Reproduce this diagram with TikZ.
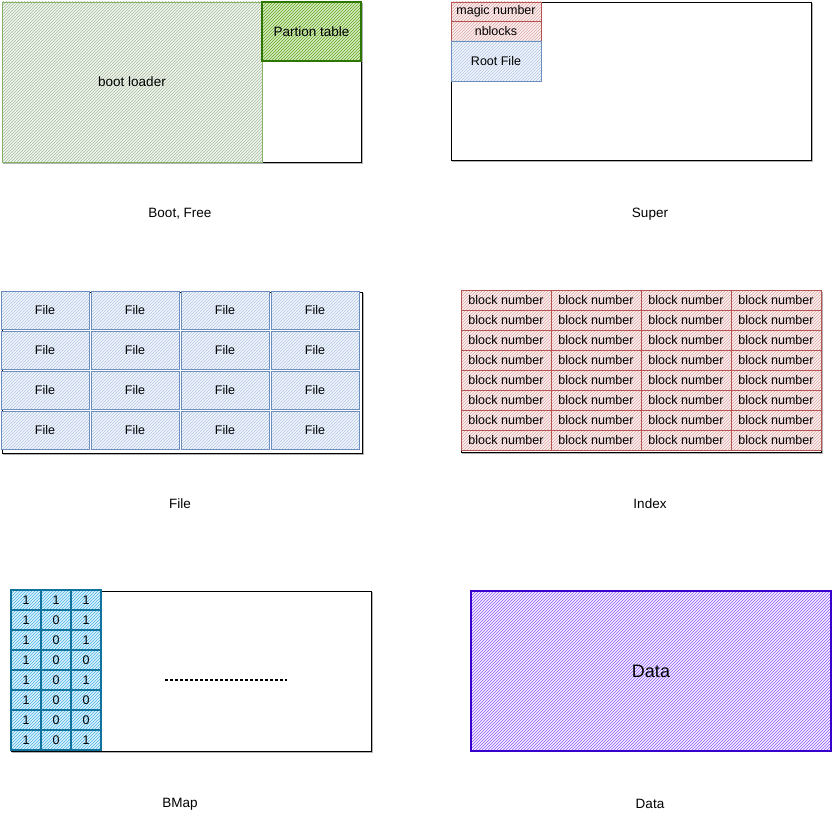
\documentclass[tikz,border=0pt]{standalone}
\usepackage{fontspec}
\setmainfont{Liberation Sans}
\usetikzlibrary{positioning, patterns}

\definecolor{bootgreen}{HTML}{82B366}
\definecolor{bootfill}{HTML}{D5E8D4}
\definecolor{partgreen}{HTML}{2D7600}
\definecolor{partfill}{HTML}{60A917}
\definecolor{redline}{HTML}{B85450}
\definecolor{redfill}{HTML}{F8CECC}
\definecolor{blueline}{HTML}{6C8EBF}
\definecolor{bluefill}{HTML}{DAE8FC}
\definecolor{mapline}{HTML}{10739E}
\definecolor{mapfill}{HTML}{1BA1E2}
\definecolor{dataline}{HTML}{3700CC}
\definecolor{datafill}{HTML}{8F5BFF}

\begin{document}
\begin{tikzpicture}[
    x=1pt, y=-1pt,
    font=\fontsize{12.5}{14}\selectfont,
    frame/.style={draw=black, line width=0.9pt, fill=white, inner sep=0pt, outer sep=0pt, anchor=north west,
        preaction={draw=black!30, line width=1pt, transform canvas={shift={(1.5pt,-1.5pt)}}}},
    cell/.style={draw, line width=0.9pt, inner sep=0pt, outer sep=0pt, anchor=north west},
    hatch/.style 2 args={preaction={fill=#2}, pattern=north east lines, pattern color=#1},
    caption/.style={font=\fontsize{13.5}{16}\selectfont}
]
\useasboundingbox (0,0) rectangle (833,824);

% Boot, Free
\node[frame, minimum width=359, minimum height=160] (bootdisk) at (2,2) {};
\node[cell, draw=bootgreen, hatch={bootgreen!55!gray!70}{bootfill!35}, minimum width=260, minimum height=160,
    font=\fontsize{13.5}{16}\selectfont] (bootldr) at (2,2) {boot loader};
\node[cell, draw=partgreen, line width=1.3pt, hatch={partfill}{partfill!25}, minimum width=99, minimum height=59,
    font=\fontsize{13.5}{16}\selectfont] (parttbl) at (bootldr.north east) {Partion table};
\node[caption] (bootcap) at (180,214) {Boot, Free};

% Super
\node[frame, minimum width=360, minimum height=158] (superblk) at (451,2) {};
\node[cell, draw=redline, hatch={redline!50}{redfill!30}, minimum width=90, minimum height=19] (magic) at (451,2) {magic number};
\node[cell, draw=redline, hatch={redline!50}{redfill!30}, minimum width=90, minimum height=20, below=0pt of magic] (nblocks) {nblocks};
\node[cell, draw=blueline, hatch={blueline!50}{bluefill!40}, minimum width=90, minimum height=40, below=0pt of nblocks] (rootfile) {Root File};
\node[caption] (supercap) at (650,214) {Super};

% File
\node[frame, minimum width=360, minimum height=161] (fileblk) at (2,292) {};
\foreach \r in {0,...,3}
  \foreach \c in {0,...,3}
    \node[cell, draw=blueline, hatch={blueline!50}{bluefill!40}, minimum width=88, minimum height=38] (file-\r-\c) at (1+90*\c, 291+40*\r) {File};
\node[caption] (filecap) at (180,504) {File};

% Index
\node[frame, minimum width=360, minimum height=161] (indexblk) at (461,291) {};
\foreach \r in {0,...,7}
  \foreach \c in {0,...,3}
    \node[cell, draw=redline, hatch={redline!50}{redfill!30}, minimum width=90, minimum height=20] (idx-\r-\c) at (461+90*\c, 290+20*\r) {block number};
\node[caption] (indexcap) at (650,504) {Index};

% BMap
\node[frame, minimum width=360, minimum height=160] (bmapblk) at (11,591) {};
\foreach \bits [count=\r from 0] in {{1,1,1},{1,0,1},{1,0,1},{1,0,0},{1,0,1},{1,0,0},{1,0,0},{1,0,1}}
  \foreach \b [count=\c from 0] in \bits
    \node[cell, draw=mapline, line width=1.1pt, hatch={mapfill!80}{mapfill!15}, minimum width=30, minimum height=20] (bit-\r-\c) at (11+30*\c, 590+20*\r) {\b};
\coordinate (gapL) at (165,680);
\coordinate (gapR) at (287,680);
\draw[densely dashed, line width=1.3pt] (gapL) -- (gapR);
\node[caption] (bmapcap) at (180,804) {BMap};

% Data
\node[cell, draw=dataline, line width=1.1pt, hatch={datafill}{datafill!10}, minimum width=360, minimum height=160,
    font=\fontsize{18}{21}\selectfont] (datablk) at (471,591) {Data};
\node[caption] (datacap) at (650,804) {Data};
\end{tikzpicture}
\end{document}
